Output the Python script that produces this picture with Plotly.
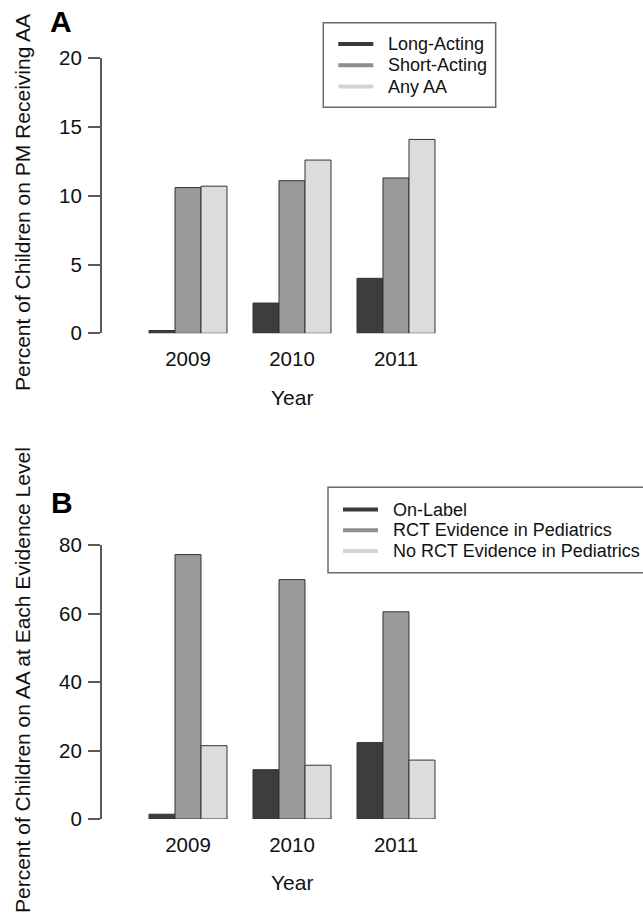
import plotly.graph_objects as go

W, H = 643, 914

years = ["2009", "2010", "2011"]

# Panel A
a_names = ["Long-Acting", "Short-Acting", "Any AA"]
long_acting = [0.2, 2.2, 4.0]
short_acting = [10.6, 11.1, 11.3]
any_aa = [10.7, 12.6, 14.1]

# Panel B
b_names = ["On-Label", "RCT Evidence in Pediatrics", "No RCT Evidence in Pediatrics"]
on_label = [1.4, 14.4, 22.3]
rct_evidence = [77.2, 69.9, 60.5]
no_rct_evidence = [21.4, 15.7, 17.2]

a_ticks = [0, 5, 10, 15, 20]
b_ticks = [0, 20, 40, 60, 80]

fills = ["#3d3d3d", "#9a9a9a", "#dcdcdc"]
legend_lines = ["#3a3a3a", "#8e8e8e", "#d4d4d4"]
edge = "#333333"
axis_col = "#5a5a5a"
FONT = "Liberation Sans, Arial, Helvetica, sans-serif"

fig = go.Figure()

def add_panel(series, names, xa, ya):
    for vals, name, col in zip(series, names, fills):
        fig.add_trace(go.Bar(
            x=years, y=vals, name=name, xaxis=xa, yaxis=ya,
            marker=dict(color=col, line=dict(color=edge, width=1)),
            showlegend=False, hoverinfo="x+y+name",
        ))

add_panel([long_acting, short_acting, any_aa], a_names, "x", "y")
add_panel([on_label, rct_evidence, no_rct_evidence], b_names, "x2", "y2")

x_left_px = 101.7
cat_px = 104.0
first_center_px = 188.0
x0 = -(first_center_px - x_left_px) / cat_px
x1 = (W - first_center_px) / cat_px
xdom = [x_left_px / W, 1.0]

def xaxis_cfg(anchor):
    return dict(
        domain=xdom, anchor=anchor, type="category", range=[x0, x1],
        showline=False, showgrid=False, zeroline=False, ticks="",
        tickfont=dict(size=20.5, color="#111111", family=FONT),
        ticklabelstandoff=11, fixedrange=True,
    )

def yaxis_cfg(anchor, top_px, bot_px, ticks, rng):
    return dict(
        domain=[1 - bot_px / H, 1 - top_px / H], anchor=anchor,
        range=rng, tickvals=ticks, ticktext=[str(t) for t in ticks],
        showline=True, linecolor=axis_col, linewidth=1.5,
        ticks="outside", ticklen=12, tickcolor=axis_col, tickwidth=1.5,
        showgrid=False, zeroline=False,
        tickfont=dict(size=20.5, color="#111111", family=FONT),
        ticklabelstandoff=2, fixedrange=True,
    )

fig.update_layout(
    width=W, height=H,
    margin=dict(l=0, r=0, t=0, b=0, autoexpand=False),
    paper_bgcolor="white", plot_bgcolor="white",
    font=dict(family=FONT, color="#111111"),
    barmode="group", bargap=0.25, bargroupgap=0,
    xaxis=xaxis_cfg("y"),
    yaxis=yaxis_cfg("x", 58.3, 333.3, a_ticks, [0, 20]),
    xaxis2=xaxis_cfg("y2"),
    yaxis2=yaxis_cfg("x2", 545.0, 819.0, b_ticks, [0, 80]),
    showlegend=False,
)

# Legends drawn in paper (pixel-derived) coordinates, R-style with line keys
def px_x(p):
    return p / W

def px_y(p):
    return 1 - p / H

def draw_legend(names, box, line_x, text_x, row0, row_gap):
    bx0, by0, bx1, by1 = box
    fig.add_shape(type="rect", xref="paper", yref="paper",
                  x0=px_x(bx0), x1=px_x(bx1), y0=px_y(by1), y1=px_y(by0),
                  line=dict(color="#6a6a6a", width=1.5), fillcolor="white", layer="above")
    for i, (name, lcol) in enumerate(zip(names, legend_lines)):
        yy = row0 + i * row_gap
        fig.add_shape(type="line", xref="paper", yref="paper",
                      x0=px_x(line_x[0]), x1=px_x(line_x[1]), y0=px_y(yy), y1=px_y(yy),
                      line=dict(color=lcol, width=4), layer="above")
        fig.add_annotation(text=name, xref="paper", yref="paper",
                           x=px_x(text_x), y=px_y(yy), xanchor="left", yanchor="middle",
                           showarrow=False, font=dict(size=18, color="#111111", family=FONT))

draw_legend(a_names, (323.3, 22.7, 495.7, 107.3), (338.3, 373.3), 385.5, 44.0, 21.3)
draw_legend(b_names, (328.0, 487.3, 650.0, 572.7), (343.0, 378.0), 390.5, 509.5, 20.8)

ann_font = dict(size=21, color="#111111", family=FONT)
fig.add_annotation(text="Percent of Children on PM Receiving AA", textangle=-90,
                   xref="paper", yref="paper", x=22.5 / W, y=1 - 202.5 / H,
                   showarrow=False, font=ann_font, xanchor="center", yanchor="middle")
fig.add_annotation(text="Percent of Children on AA at Each Evidence Level", textangle=-90,
                   xref="paper", yref="paper", x=22.5 / W, y=1 - 680.5 / H,
                   showarrow=False, font=ann_font, xanchor="center", yanchor="middle")
mid_cat = years.index("2010")
fig.add_annotation(text="Year", xref="x", yref="paper", x=mid_cat, y=1 - 397.5 / H,
                   showarrow=False, font=ann_font, xanchor="center", yanchor="middle")
fig.add_annotation(text="Year", xref="x2", yref="paper", x=mid_cat, y=1 - 882.0 / H,
                   showarrow=False, font=ann_font, xanchor="center", yanchor="middle")
fig.add_annotation(text="<b>A</b>", xref="paper", yref="paper", x=61.0 / W, y=1 - 21.7 / H,
                   showarrow=False, font=dict(size=30, color="#000000", family=FONT),
                   xanchor="center", yanchor="middle")
fig.add_annotation(text="<b>B</b>", xref="paper", yref="paper", x=61.5 / W, y=1 - 502.5 / H,
                   showarrow=False, font=dict(size=30, color="#000000", family=FONT),
                   xanchor="center", yanchor="middle")

fig.write_html("out.html", config={"displayModeBar": False},
               post_script="document.body.style.margin='0px';")
